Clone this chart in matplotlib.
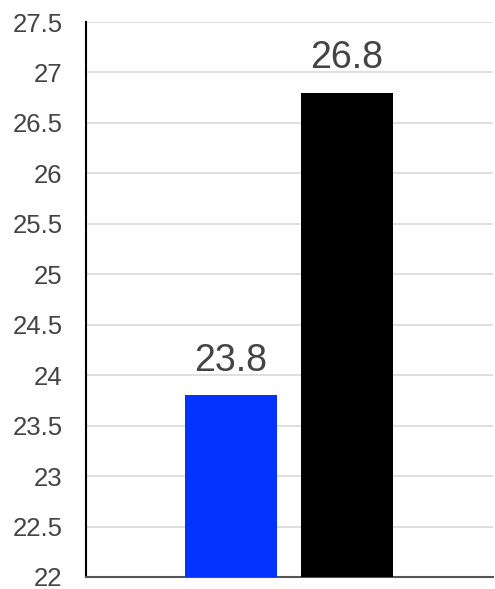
import matplotlib
matplotlib.use("Agg")
import matplotlib.pyplot as plt

# dados
categorias = ["A", "B"]
valores = [23.8, 26.8]
cores = ["#0433ff", "#000000"]
ticks_y = [22, 22.5, 23, 23.5, 24, 24.5, 25, 25.5, 26, 26.5, 27, 27.5]

plt.rcParams["font.family"] = ["Liberation Sans", "DejaVu Sans"]

fig = plt.figure(figsize=(4.95, 5.89), dpi=100)
ax = fig.add_axes([0.174, 0.0204, 0.822, 0.9422])

x = list(range(len(categorias)))
barras = ax.bar(x, valores, width=0.79, color=cores, zorder=3)

# rótulos acima das barras
for xi, v in zip(x, valores):
    ax.annotate(f"{v}", (xi, v), xytext=(0, 12), textcoords="offset points",
                ha="center", va="bottom", fontsize=27, color="#444444")

ax.set_ylim(22, 27.5)
ax.set_xlim(-1.25, 2.26)
ax.set_yticks(ticks_y)
ax.set_yticklabels([f"{t:g}" for t in ticks_y])
ax.set_xticks([])
ax.tick_params(axis="y", length=0, pad=17, labelsize=18.5, labelcolor="#444444")
ax.grid(axis="y", color="#d9d9d9", lw=1.2, zorder=0)

for s in ["top", "right"]:
    ax.spines[s].set_visible(False)
ax.spines["left"].set_color("black")
ax.spines["left"].set_linewidth(1.5)
ax.spines["bottom"].set_color("#555555")
ax.spines["bottom"].set_linewidth(1.5)

fig.savefig("out.png", dpi=100)
